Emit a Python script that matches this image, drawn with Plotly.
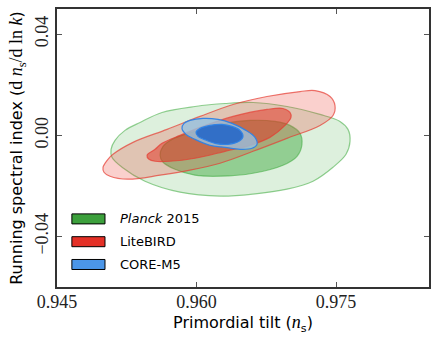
import plotly.graph_objects as go

# contour outlines (ns, alpha_s)
planck_95_x = [0.95081, 0.95124, 0.95231, 0.95393, 0.95629, 0.95984, 0.96307, 0.96608, 0.96973, 0.97328,
               0.97543, 0.97629, 0.97651, 0.97608, 0.97468, 0.97253, 0.96973, 0.96608, 0.96253, 0.95823,
               0.95446, 0.95199, 0.95091]
planck_95_y = [-0.00552, -0.00197, 0.00197, 0.00512, 0.00906, 0.01143, 0.01261, 0.01301, 0.01143, 0.00828,
               0.00552, 0.00236, -0.00236, -0.00749, -0.01261, -0.01813, -0.02128, -0.02325, -0.02404, -0.02246,
               -0.01813, -0.01261, -0.00867]
planck_68_x = [0.95608, 0.95640, 0.95737, 0.95909, 0.96253, 0.96575, 0.96844, 0.97005, 0.97113, 0.97134,
               0.97081, 0.96930, 0.96608, 0.96253, 0.95984, 0.95769, 0.95640]
planck_68_y = [-0.00788, -0.00433, -0.00158, 0.00079, 0.00433, 0.00591, 0.00552, 0.00394, 0.00079, -0.00355,
               -0.00828, -0.01182, -0.01498, -0.01616, -0.01576, -0.01340, -0.01064]

litebird_95_x = [0.94995, 0.95048, 0.95102, 0.95317, 0.95683, 0.96038, 0.96393, 0.96758, 0.97113, 0.97274,
                 0.97436, 0.97489, 0.97468, 0.97328, 0.96973, 0.96608, 0.96253, 0.95930, 0.95608, 0.95263,
                 0.95070, 0.95005]
litebird_95_y = [-0.01261, -0.00946, -0.00749, -0.00276, 0.00236, 0.00749, 0.01222, 0.01537, 0.01734, 0.01773,
                 0.01537, 0.01182, 0.00788, 0.00394, -0.00118, -0.00631, -0.01103, -0.01379, -0.01576, -0.01734,
                 -0.01616, -0.01458]
litebird_68_x = [0.95468, 0.95554, 0.95629, 0.95823, 0.96038, 0.96393, 0.96758, 0.96930, 0.97005, 0.97016,
                 0.96952, 0.96790, 0.96575, 0.96307, 0.95984, 0.95715, 0.95554, 0.95489]
litebird_68_y = [-0.00788, -0.00552, -0.00315, 0.0, 0.00315, 0.00749, 0.01025, 0.01064, 0.00906, 0.00709,
                 0.00394, -0.00079, -0.00394, -0.00631, -0.00906, -0.01025, -0.01025, -0.00946]

core_95_x = [0.95844, 0.95866, 0.95930, 0.96070, 0.96231, 0.96382, 0.96532, 0.96629, 0.96651, 0.96597,
             0.96468, 0.96307, 0.96145, 0.95984, 0.95887]
core_95_y = [0.00276, 0.00473, 0.00591, 0.00670, 0.00631, 0.00473, 0.00197, -0.00079, -0.00355, -0.00512,
             -0.00552, -0.00473, -0.00394, -0.00158, 0.00039]
core_68_x = [0.95995, 0.96038, 0.96145, 0.96274, 0.96382, 0.96468, 0.96500, 0.96457, 0.96339, 0.96199,
             0.96081, 0.96016]
core_68_y = [0.00118, 0.00276, 0.00394, 0.00433, 0.00355, 0.00197, -0.00039, -0.00236, -0.00355, -0.00315,
             -0.00158, -0.00039]

x_ticks = [0.945, 0.960, 0.975]
y_ticks = [-0.04, 0.00, 0.04]

names = ["<i>Planck</i> 2015", "LiteBIRD", "CORE-M5"]
outlines = [
    ((planck_95_x, planck_95_y), (planck_68_x, planck_68_y)),
    ((litebird_95_x, litebird_95_y), (litebird_68_x, litebird_68_y)),
    ((core_95_x, core_95_y), (core_68_x, core_68_y)),
]
# (outer fill, inner fill, edge, legend patch)
styles = [
    ("rgba(44,160,44,0.16)", "rgba(44,160,44,0.42)", "rgba(60,170,60,0.55)", "rgb(60,160,60)"),
    ("rgba(235,60,45,0.24)", "rgba(225,45,30,0.5)", "rgba(230,60,50,0.7)", "rgb(228,48,38)"),
    ("rgba(150,195,225,0.8)", "rgba(40,105,200,0.92)", "rgba(45,130,230,0.95)", "rgb(75,150,232)"),
]

serif = "Liberation Serif"
sans = "DejaVu Sans"

fig = go.Figure()
for (outer, inner), (fo, fi, edge, _) in zip(outlines, styles):
    for (xs, ys), fc in [(outer, fo), (inner, fi)]:
        fig.add_trace(go.Scatter(
            x=list(xs) + [xs[0]], y=list(ys) + [ys[0]],
            mode="lines", line=dict(color=edge, width=1.2, shape="spline", smoothing=1.0),
            fill="toself", fillcolor=fc, showlegend=False, hoverinfo="skip"))

# legend drawn by hand: patch + label per entry (paper coords)
for k, (name, st) in enumerate(zip(names, styles)):
    yc = 0.245 - k * 0.082
    fig.add_shape(type="rect", xref="paper", yref="paper",
                  x0=0.040, x1=0.129, y0=yc - 0.018, y1=yc + 0.018,
                  fillcolor=st[3], line=dict(color="black", width=1))
    fig.add_annotation(x=0.165, y=yc, xref="paper", yref="paper", text=name,
                       showarrow=False, xanchor="left", yanchor="middle",
                       font=dict(family=sans, size=13, color="black"))

fig.update_layout(
    width=437, height=345,
    margin=dict(l=57, r=8, t=9, b=58),
    plot_bgcolor="white", paper_bgcolor="white",
    font=dict(family=sans, size=14, color="black"),
    showlegend=False,
)
fig.update_xaxes(
    range=[0.945, 0.985], tickvals=x_ticks, ticktext=["0.945", "0.960", "0.975"],
    ticks="inside", ticklen=5, tickcolor="#555", mirror="ticks", automargin=False,
    showline=True, linecolor="#333", linewidth=1.6, showgrid=False, zeroline=False,
    tickfont=dict(family=serif, size=18, color="#222"), ticklabelstandoff=-2,
    title=dict(text="Primordial tilt (<span style=\"font-family:'Liberation Serif';font-size:18px\"><i>n</i></span><sub>s</sub>)",
               font=dict(family=sans, size=16), standoff=2),
)
fig.update_yaxes(
    range=[-0.06, 0.05], tickvals=y_ticks, ticktext=["\u22120.04", "0.00", "0.04"],
    ticks="inside", ticklen=5, tickcolor="#555", mirror="ticks", tickangle=-90, automargin=False,
    showline=True, linecolor="#333", linewidth=1.6, showgrid=False, zeroline=False,
    tickfont=dict(family=serif, size=18, color="#222"),
    title=dict(text="Running spectral index (<span style=\"font-family:'Liberation Serif';font-size:18px\">d <i>n</i><sub>s</sub>/d ln <i>k</i></span>)",
               font=dict(family=sans, size=16), standoff=5),
)

fig.write_html("out.html", config={"displayModeBar": False},
               post_script="document.body.style.margin='0';")
